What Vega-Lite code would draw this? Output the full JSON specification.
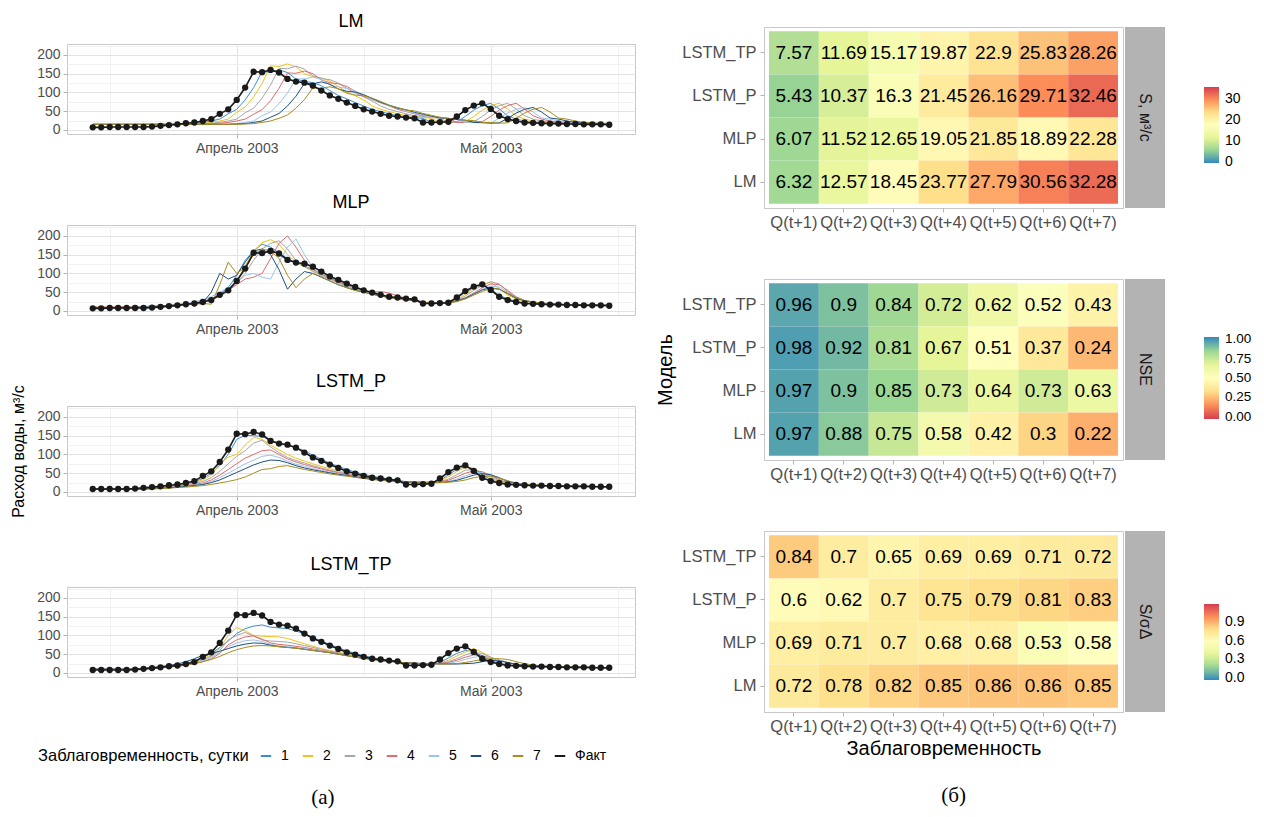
{
"$schema":"https://vega.github.io/schema/vega-lite/v6.json",
"background":"white",
"padding":{"left":10,"top":12,"right":4,"bottom":2},
"config":{"font":"Liberation Sans","view":{"stroke":"#c8c8c8"},"title":{"font":"Liberation Sans","fontSize":18,"fontWeight":"normal","color":"#000","offset":13,"anchor":"middle"},"legend":{"layout":{"bottom":{"anchor":"middle"},"right":{"anchor":"middle"}}}},
"datasets":{
"LM":[
{"d":"2003-03-15","f":7,"1":15,"2":15,"3":15,"4":15,"5":15,"6":15,"7":15},
{"d":"2003-03-16","f":7,"1":15,"2":15,"3":15,"4":15,"5":15,"6":15,"7":15},
{"d":"2003-03-17","f":8,"1":15,"2":15,"3":15,"4":15,"5":15,"6":15,"7":15},
{"d":"2003-03-18","f":8,"1":15,"2":15,"3":15,"4":15,"5":15,"6":15,"7":15},
{"d":"2003-03-19","f":8,"1":15,"2":15,"3":15,"4":15,"5":15,"6":15,"7":15},
{"d":"2003-03-20","f":8,"1":15,"2":15,"3":15,"4":15,"5":15,"6":15,"7":15},
{"d":"2003-03-21","f":8,"1":15,"2":15,"3":15,"4":15,"5":15,"6":15,"7":15},
{"d":"2003-03-22","f":9,"1":15,"2":15,"3":15,"4":15,"5":15,"6":15,"7":15},
{"d":"2003-03-23","f":11,"1":15,"2":15,"3":15,"4":15,"5":15,"6":15,"7":15},
{"d":"2003-03-24","f":13,"1":15,"2":15,"3":15,"4":15,"5":15,"6":15,"7":15},
{"d":"2003-03-25","f":15,"1":15,"2":15,"3":15,"4":15,"5":15,"6":15,"7":15},
{"d":"2003-03-26","f":18,"1":16,"2":15,"3":15,"4":15,"5":15,"6":15,"7":15},
{"d":"2003-03-27","f":20,"1":18,"2":16,"3":15,"4":15,"5":15,"6":15,"7":15},
{"d":"2003-03-28","f":24,"1":20,"2":18,"3":16,"4":15,"5":15,"6":15,"7":15},
{"d":"2003-03-29","f":29,"1":24,"2":20,"3":18,"4":16,"5":15,"6":15,"7":15},
{"d":"2003-03-30","f":43,"1":29,"2":24,"3":20,"4":18,"5":15,"6":15,"7":15},
{"d":"2003-03-31","f":55,"1":43,"2":29,"3":24,"4":20,"5":16,"6":15,"7":15},
{"d":"2003-04-01","f":80,"1":55,"2":47,"3":29,"4":24,"5":17,"6":16,"7":15},
{"d":"2003-04-02","f":113,"1":80,"2":61,"3":46,"4":29,"5":20,"6":17,"7":16},
{"d":"2003-04-03","f":155,"1":113,"2":88,"3":58,"4":42,"5":24,"6":20,"7":17},
{"d":"2003-04-04","f":154,"1":155,"2":124,"3":85,"4":54,"5":38,"6":24,"7":20},
{"d":"2003-04-05","f":160,"1":154,"2":171,"3":120,"4":78,"5":48,"6":34,"7":24},
{"d":"2003-04-06","f":153,"1":160,"2":169,"3":164,"4":111,"5":70,"6":44,"7":31},
{"d":"2003-04-07","f":136,"1":153,"2":176,"3":163,"4":152,"5":99,"6":64,"7":40},
{"d":"2003-04-08","f":129,"1":136,"2":168,"3":170,"4":151,"5":136,"6":90,"7":58},
{"d":"2003-04-09","f":126,"1":129,"2":150,"3":162,"4":157,"5":136,"6":124,"7":81},
{"d":"2003-04-10","f":118,"1":126,"2":142,"3":144,"4":150,"5":141,"6":123,"7":112},
{"d":"2003-04-11","f":105,"1":118,"2":139,"3":137,"4":133,"5":135,"6":128,"7":111},
{"d":"2003-04-12","f":92,"1":105,"2":130,"3":134,"4":126,"5":120,"6":122,"7":115},
{"d":"2003-04-13","f":83,"1":92,"2":116,"3":125,"4":123,"5":114,"6":109,"7":110},
{"d":"2003-04-14","f":73,"1":83,"2":101,"3":111,"4":116,"5":111,"6":103,"7":98},
{"d":"2003-04-15","f":64,"1":73,"2":91,"3":98,"4":103,"5":104,"6":101,"7":93},
{"d":"2003-04-16","f":55,"1":64,"2":80,"3":88,"4":90,"5":92,"6":94,"7":91},
{"d":"2003-04-17","f":49,"1":55,"2":64,"3":77,"4":81,"5":81,"6":84,"7":85},
{"d":"2003-04-18","f":43,"1":49,"2":55,"3":64,"4":72,"5":73,"6":74,"7":76},
{"d":"2003-04-19","f":38,"1":43,"2":49,"3":55,"4":64,"5":64,"6":66,"7":66},
{"d":"2003-04-20","f":36,"1":38,"2":43,"3":49,"4":55,"5":58,"6":58,"7":60},
{"d":"2003-04-21","f":33,"1":36,"2":38,"3":43,"4":49,"5":50,"6":54,"7":53},
{"d":"2003-04-22","f":31,"1":33,"2":36,"3":38,"4":43,"5":44,"6":47,"7":51},
{"d":"2003-04-23","f":20,"1":31,"2":33,"3":36,"4":38,"5":39,"6":42,"7":44},
{"d":"2003-04-24","f":20,"1":20,"2":31,"3":33,"4":36,"5":34,"6":37,"7":39},
{"d":"2003-04-25","f":21,"1":20,"2":20,"3":31,"4":33,"5":33,"6":32,"7":34},
{"d":"2003-04-26","f":22,"1":21,"2":20,"3":20,"4":31,"5":31,"6":31,"7":30},
{"d":"2003-04-27","f":36,"1":22,"2":21,"3":20,"4":20,"5":29,"6":28,"7":29},
{"d":"2003-04-28","f":53,"1":36,"2":22,"3":21,"4":20,"5":20,"6":26,"7":26},
{"d":"2003-04-29","f":65,"1":53,"2":36,"3":22,"4":21,"5":20,"6":20,"7":25},
{"d":"2003-04-30","f":71,"1":65,"2":53,"3":36,"4":22,"5":18,"6":20,"7":20},
{"d":"2003-05-01","f":56,"1":71,"2":65,"3":53,"4":36,"5":19,"6":18,"7":20},
{"d":"2003-05-02","f":38,"1":56,"2":71,"3":65,"4":53,"5":31,"6":19,"7":18},
{"d":"2003-05-03","f":29,"1":38,"2":56,"3":71,"4":65,"5":45,"6":31,"7":19},
{"d":"2003-05-04","f":24,"1":29,"2":38,"3":56,"4":71,"5":55,"6":45,"7":31},
{"d":"2003-05-05","f":20,"1":24,"2":29,"3":38,"4":56,"5":60,"6":55,"7":45},
{"d":"2003-05-06","f":19,"1":20,"2":24,"3":29,"4":38,"5":48,"6":60,"7":55},
{"d":"2003-05-07","f":18,"1":19,"2":20,"3":24,"4":29,"5":32,"6":48,"7":60},
{"d":"2003-05-08","f":17,"1":18,"2":19,"3":20,"4":24,"5":29,"6":32,"7":48},
{"d":"2003-05-09","f":17,"1":17,"2":18,"3":19,"4":20,"5":24,"6":29,"7":32},
{"d":"2003-05-10","f":16,"1":17,"2":17,"3":18,"4":19,"5":20,"6":24,"7":29},
{"d":"2003-05-11","f":16,"1":16,"2":17,"3":17,"4":18,"5":19,"6":20,"7":24},
{"d":"2003-05-12","f":15,"1":16,"2":16,"3":17,"4":17,"5":18,"6":19,"7":20},
{"d":"2003-05-13","f":15,"1":15,"2":16,"3":16,"4":17,"5":17,"6":18,"7":19},
{"d":"2003-05-14","f":15,"1":15,"2":15,"3":16,"4":16,"5":17,"6":17,"7":18},
{"d":"2003-05-15","f":14,"1":15,"2":15,"3":15,"4":16,"5":16,"6":17,"7":17}
],
"MLP":[
{"d":"2003-03-15","f":7,"1":9,"2":10,"3":10,"4":10,"5":9,"6":9,"7":8},
{"d":"2003-03-16","f":7,"1":9,"2":10,"3":10,"4":10,"5":9,"6":9,"7":8},
{"d":"2003-03-17","f":8,"1":9,"2":10,"3":10,"4":10,"5":9,"6":9,"7":8},
{"d":"2003-03-18","f":8,"1":9,"2":10,"3":10,"4":11,"5":9,"6":9,"7":8},
{"d":"2003-03-19","f":8,"1":9,"2":10,"3":10,"4":11,"5":10,"6":9,"7":8},
{"d":"2003-03-20","f":8,"1":9,"2":10,"3":10,"4":11,"5":10,"6":10,"7":9},
{"d":"2003-03-21","f":8,"1":10,"2":10,"3":10,"4":12,"5":11,"6":10,"7":9},
{"d":"2003-03-22","f":9,"1":11,"2":11,"3":11,"4":13,"5":12,"6":11,"7":10},
{"d":"2003-03-23","f":11,"1":12,"2":12,"3":12,"4":14,"5":13,"6":12,"7":11},
{"d":"2003-03-24","f":13,"1":14,"2":14,"3":13,"4":15,"5":15,"6":14,"7":12},
{"d":"2003-03-25","f":15,"1":16,"2":16,"3":15,"4":17,"5":17,"6":16,"7":14},
{"d":"2003-03-26","f":18,"1":18,"2":18,"3":17,"4":19,"5":20,"6":18,"7":16},
{"d":"2003-03-27","f":20,"1":21,"2":21,"3":20,"4":22,"5":24,"6":20,"7":18},
{"d":"2003-03-28","f":24,"1":26,"2":25,"3":24,"4":26,"5":30,"6":22,"7":20},
{"d":"2003-03-29","f":29,"1":32,"2":30,"3":30,"4":32,"5":38,"6":50,"7":18},
{"d":"2003-03-30","f":43,"1":45,"2":40,"3":38,"4":40,"5":50,"6":100,"7":70},
{"d":"2003-03-31","f":55,"1":62,"2":55,"3":52,"4":55,"5":62,"6":85,"7":130},
{"d":"2003-04-01","f":80,"1":95,"2":80,"3":75,"4":70,"5":75,"6":95,"7":100},
{"d":"2003-04-02","f":113,"1":135,"2":120,"3":100,"4":85,"5":95,"6":130,"7":115},
{"d":"2003-04-03","f":155,"1":160,"2":160,"3":135,"4":90,"5":100,"6":160,"7":150},
{"d":"2003-04-04","f":154,"1":178,"2":182,"3":165,"4":100,"5":90,"6":165,"7":165},
{"d":"2003-04-05","f":160,"1":170,"2":190,"3":180,"4":140,"5":85,"6":150,"7":160},
{"d":"2003-04-06","f":153,"1":155,"2":178,"3":187,"4":180,"5":130,"6":110,"7":140},
{"d":"2003-04-07","f":136,"1":140,"2":150,"3":165,"4":200,"5":170,"6":58,"7":95},
{"d":"2003-04-08","f":129,"1":128,"2":130,"3":135,"4":170,"5":192,"6":85,"7":62},
{"d":"2003-04-09","f":126,"1":120,"2":118,"3":118,"4":135,"5":150,"6":105,"7":85},
{"d":"2003-04-10","f":118,"1":110,"2":108,"3":105,"4":112,"5":115,"6":100,"7":100},
{"d":"2003-04-11","f":105,"1":98,"2":97,"3":95,"4":98,"5":96,"6":90,"7":92},
{"d":"2003-04-12","f":92,"1":88,"2":86,"3":85,"4":87,"5":84,"6":80,"7":80},
{"d":"2003-04-13","f":83,"1":78,"2":76,"3":75,"4":78,"5":74,"6":70,"7":70},
{"d":"2003-04-14","f":73,"1":68,"2":66,"3":65,"4":70,"5":65,"6":62,"7":62},
{"d":"2003-04-15","f":64,"1":60,"2":58,"3":58,"4":62,"5":58,"6":55,"7":55},
{"d":"2003-04-16","f":55,"1":52,"2":51,"3":51,"4":55,"5":52,"6":50,"7":50},
{"d":"2003-04-17","f":49,"1":46,"2":45,"3":45,"4":50,"5":46,"6":45,"7":45},
{"d":"2003-04-18","f":43,"1":41,"2":40,"3":40,"4":52,"5":41,"6":40,"7":40},
{"d":"2003-04-19","f":38,"1":37,"2":36,"3":36,"4":48,"5":37,"6":36,"7":36},
{"d":"2003-04-20","f":36,"1":34,"2":33,"3":33,"4":40,"5":34,"6":33,"7":33},
{"d":"2003-04-21","f":33,"1":32,"2":31,"3":31,"4":34,"5":32,"6":31,"7":31},
{"d":"2003-04-22","f":31,"1":28,"2":27,"3":28,"4":30,"5":28,"6":27,"7":28},
{"d":"2003-04-23","f":20,"1":22,"2":22,"3":23,"4":24,"5":23,"6":22,"7":23},
{"d":"2003-04-24","f":20,"1":21,"2":21,"3":21,"4":22,"5":21,"6":21,"7":21},
{"d":"2003-04-25","f":21,"1":22,"2":22,"3":22,"4":22,"5":21,"6":21,"7":21},
{"d":"2003-04-26","f":22,"1":24,"2":24,"3":23,"4":23,"5":22,"6":22,"7":22},
{"d":"2003-04-27","f":36,"1":34,"2":30,"3":28,"4":27,"5":26,"6":26,"7":25},
{"d":"2003-04-28","f":53,"1":50,"2":45,"3":40,"4":35,"5":34,"6":34,"7":32},
{"d":"2003-04-29","f":65,"1":62,"2":60,"3":55,"4":48,"5":46,"6":45,"7":42},
{"d":"2003-04-30","f":71,"1":68,"2":72,"3":68,"4":62,"5":58,"6":56,"7":52},
{"d":"2003-05-01","f":56,"1":58,"2":76,"3":78,"4":72,"5":66,"6":62,"7":60},
{"d":"2003-05-02","f":38,"1":42,"2":60,"3":72,"4":70,"5":64,"6":58,"7":58},
{"d":"2003-05-03","f":29,"1":32,"2":42,"3":52,"4":55,"5":50,"6":46,"7":48},
{"d":"2003-05-04","f":24,"1":26,"2":32,"3":35,"4":38,"5":36,"6":34,"7":36},
{"d":"2003-05-05","f":20,"1":22,"2":26,"3":27,"4":28,"5":28,"6":27,"7":28},
{"d":"2003-05-06","f":19,"1":20,"2":22,"3":23,"4":24,"5":24,"6":23,"7":24},
{"d":"2003-05-07","f":18,"1":19,"2":20,"3":20,"4":21,"5":21,"6":20,"7":21},
{"d":"2003-05-08","f":17,"1":18,"2":19,"3":19,"4":20,"5":19,"6":19,"7":19},
{"d":"2003-05-09","f":17,"1":17,"2":18,"3":18,"4":18,"5":18,"6":18,"7":18},
{"d":"2003-05-10","f":16,"1":17,"2":17,"3":17,"4":17,"5":17,"6":17,"7":17},
{"d":"2003-05-11","f":16,"1":16,"2":17,"3":17,"4":17,"5":17,"6":17,"7":17},
{"d":"2003-05-12","f":15,"1":16,"2":16,"3":16,"4":16,"5":16,"6":16,"7":16},
{"d":"2003-05-13","f":15,"1":15,"2":16,"3":16,"4":16,"5":16,"6":16,"7":16},
{"d":"2003-05-14","f":15,"1":15,"2":15,"3":15,"4":15,"5":15,"6":15,"7":15},
{"d":"2003-05-15","f":14,"1":15,"2":15,"3":15,"4":15,"5":15,"6":15,"7":15}
],
"LSTM_P":[
{"d":"2003-03-15","f":8,"1":8,"2":8,"3":8,"4":8,"5":8,"6":8,"7":8},
{"d":"2003-03-16","f":8,"1":8,"2":8,"3":8,"4":8,"5":8,"6":8,"7":8},
{"d":"2003-03-17","f":8,"1":8,"2":8,"3":8,"4":8,"5":8,"6":8,"7":8},
{"d":"2003-03-18","f":8,"1":8,"2":8,"3":8,"4":8,"5":8,"6":8,"7":8},
{"d":"2003-03-19","f":8,"1":8,"2":8,"3":8,"4":8,"5":8,"6":8,"7":8},
{"d":"2003-03-20","f":9,"1":9,"2":8,"3":8,"4":8,"5":8,"6":8,"7":8},
{"d":"2003-03-21","f":11,"1":10,"2":9,"3":9,"4":9,"5":8,"6":8,"7":8},
{"d":"2003-03-22","f":13,"1":12,"2":11,"3":10,"4":10,"5":9,"6":9,"7":8},
{"d":"2003-03-23","f":15,"1":14,"2":13,"3":12,"4":11,"5":10,"6":10,"7":9},
{"d":"2003-03-24","f":18,"1":16,"2":15,"3":14,"4":13,"5":12,"6":11,"7":10},
{"d":"2003-03-25","f":20,"1":19,"2":18,"3":16,"4":15,"5":14,"6":13,"7":12},
{"d":"2003-03-26","f":24,"1":22,"2":21,"3":19,"4":17,"5":16,"6":15,"7":13},
{"d":"2003-03-27","f":29,"1":27,"2":25,"3":23,"4":20,"5":18,"6":17,"7":15},
{"d":"2003-03-28","f":43,"1":36,"2":32,"3":28,"4":24,"5":22,"6":20,"7":17},
{"d":"2003-03-29","f":55,"1":50,"2":45,"3":38,"4":32,"5":28,"6":25,"7":20},
{"d":"2003-03-30","f":80,"1":70,"2":75,"3":55,"4":45,"5":38,"6":32,"7":24},
{"d":"2003-03-31","f":113,"1":100,"2":93,"3":75,"4":60,"5":50,"6":42,"7":28},
{"d":"2003-04-01","f":155,"1":140,"2":100,"3":95,"4":75,"5":62,"6":52,"7":33},
{"d":"2003-04-02","f":154,"1":151,"2":125,"3":110,"4":90,"5":75,"6":62,"7":40},
{"d":"2003-04-03","f":160,"1":150,"2":146,"3":130,"4":100,"5":85,"6":72,"7":50},
{"d":"2003-04-04","f":153,"1":148,"2":140,"3":138,"4":110,"5":95,"6":80,"7":60},
{"d":"2003-04-05","f":136,"1":138,"2":125,"3":120,"4":112,"5":98,"6":85,"7":62},
{"d":"2003-04-06","f":129,"1":130,"2":112,"3":105,"4":100,"5":92,"6":84,"7":68},
{"d":"2003-04-07","f":126,"1":125,"2":100,"3":92,"4":88,"5":82,"6":78,"7":70},
{"d":"2003-04-08","f":118,"1":118,"2":90,"3":84,"4":80,"5":74,"6":70,"7":65},
{"d":"2003-04-09","f":105,"1":110,"2":82,"3":77,"4":73,"5":68,"6":64,"7":60},
{"d":"2003-04-10","f":92,"1":98,"2":75,"3":70,"4":67,"5":62,"6":59,"7":56},
{"d":"2003-04-11","f":83,"1":87,"2":68,"3":64,"4":61,"5":57,"6":55,"7":52},
{"d":"2003-04-12","f":73,"1":77,"2":62,"3":58,"4":56,"5":53,"6":51,"7":48},
{"d":"2003-04-13","f":64,"1":68,"2":56,"3":53,"4":51,"5":49,"6":47,"7":45},
{"d":"2003-04-14","f":55,"1":60,"2":51,"3":48,"4":47,"5":45,"6":44,"7":42},
{"d":"2003-04-15","f":49,"1":53,"2":46,"3":44,"4":43,"5":41,"6":40,"7":39},
{"d":"2003-04-16","f":43,"1":47,"2":42,"3":40,"4":39,"5":38,"6":37,"7":36},
{"d":"2003-04-17","f":38,"1":42,"2":38,"3":36,"4":36,"5":35,"6":34,"7":33},
{"d":"2003-04-18","f":36,"1":38,"2":35,"3":33,"4":33,"5":33,"6":32,"7":31},
{"d":"2003-04-19","f":33,"1":35,"2":32,"3":31,"4":31,"5":31,"6":30,"7":29},
{"d":"2003-04-20","f":31,"1":32,"2":30,"3":29,"4":29,"5":29,"6":28,"7":28},
{"d":"2003-04-21","f":20,"1":27,"2":27,"3":27,"4":27,"5":27,"6":27,"7":27},
{"d":"2003-04-22","f":20,"1":24,"2":26,"3":26,"4":26,"5":26,"6":26,"7":26},
{"d":"2003-04-23","f":21,"1":23,"2":26,"3":26,"4":26,"5":25,"6":25,"7":25},
{"d":"2003-04-24","f":22,"1":23,"2":26,"3":26,"4":26,"5":25,"6":25,"7":25},
{"d":"2003-04-25","f":36,"1":30,"2":30,"3":28,"4":27,"5":26,"6":25,"7":25},
{"d":"2003-04-26","f":53,"1":46,"2":40,"3":34,"4":31,"5":28,"6":27,"7":26},
{"d":"2003-04-27","f":65,"1":60,"2":55,"3":46,"4":40,"5":34,"6":31,"7":28},
{"d":"2003-04-28","f":71,"1":68,"2":65,"3":58,"4":50,"5":43,"6":38,"7":32},
{"d":"2003-04-29","f":56,"1":62,"2":62,"3":60,"4":56,"5":50,"6":45,"7":38},
{"d":"2003-04-30","f":38,"1":46,"2":50,"3":52,"4":54,"5":52,"6":49,"7":42},
{"d":"2003-05-01","f":29,"1":33,"2":36,"3":40,"4":44,"5":46,"6":46,"7":42},
{"d":"2003-05-02","f":24,"1":26,"2":28,"3":30,"4":33,"5":36,"6":38,"7":37},
{"d":"2003-05-03","f":20,"1":22,"2":23,"3":24,"4":25,"5":27,"6":29,"7":30},
{"d":"2003-05-04","f":19,"1":20,"2":20,"3":21,"4":21,"5":22,"6":23,"7":24},
{"d":"2003-05-05","f":18,"1":19,"2":19,"3":19,"4":19,"5":20,"6":20,"7":21},
{"d":"2003-05-06","f":17,"1":18,"2":18,"3":18,"4":18,"5":18,"6":18,"7":19},
{"d":"2003-05-07","f":17,"1":17,"2":17,"3":17,"4":17,"5":17,"6":17,"7":18},
{"d":"2003-05-08","f":16,"1":17,"2":17,"3":17,"4":17,"5":17,"6":17,"7":17},
{"d":"2003-05-09","f":16,"1":16,"2":16,"3":16,"4":16,"5":16,"6":16,"7":16},
{"d":"2003-05-10","f":15,"1":16,"2":16,"3":16,"4":16,"5":16,"6":16,"7":16},
{"d":"2003-05-11","f":15,"1":15,"2":15,"3":15,"4":15,"5":15,"6":15,"7":15},
{"d":"2003-05-12","f":15,"1":15,"2":15,"3":15,"4":15,"5":15,"6":15,"7":15},
{"d":"2003-05-13","f":14,"1":15,"2":15,"3":15,"4":15,"5":15,"6":15,"7":15},
{"d":"2003-05-14","f":14,"1":14,"2":14,"3":14,"4":14,"5":14,"6":14,"7":14},
{"d":"2003-05-15","f":14,"1":14,"2":14,"3":14,"4":14,"5":14,"6":14,"7":14}
],
"LSTM_TP":[
{"d":"2003-03-15","f":8,"1":10,"2":10,"3":10,"4":10,"5":10,"6":10,"7":9},
{"d":"2003-03-16","f":8,"1":10,"2":10,"3":10,"4":10,"5":10,"6":10,"7":9},
{"d":"2003-03-17","f":8,"1":10,"2":10,"3":10,"4":10,"5":10,"6":10,"7":9},
{"d":"2003-03-18","f":8,"1":10,"2":10,"3":10,"4":10,"5":10,"6":10,"7":9},
{"d":"2003-03-19","f":8,"1":10,"2":10,"3":10,"4":10,"5":10,"6":10,"7":9},
{"d":"2003-03-20","f":9,"1":11,"2":11,"3":10,"4":10,"5":10,"6":11,"7":10},
{"d":"2003-03-21","f":11,"1":12,"2":12,"3":11,"4":11,"5":11,"6":12,"7":11},
{"d":"2003-03-22","f":13,"1":14,"2":13,"3":13,"4":12,"5":12,"6":14,"7":12},
{"d":"2003-03-23","f":15,"1":16,"2":15,"3":15,"4":14,"5":14,"6":17,"7":14},
{"d":"2003-03-24","f":18,"1":18,"2":17,"3":17,"4":16,"5":16,"6":20,"7":16},
{"d":"2003-03-25","f":20,"1":21,"2":20,"3":19,"4":18,"5":18,"6":24,"7":18},
{"d":"2003-03-26","f":24,"1":26,"2":24,"3":23,"4":21,"5":21,"6":30,"7":21},
{"d":"2003-03-27","f":29,"1":32,"2":30,"3":28,"4":25,"5":26,"6":38,"7":25},
{"d":"2003-03-28","f":43,"1":42,"2":38,"3":35,"4":30,"5":33,"6":47,"7":30},
{"d":"2003-03-29","f":55,"1":52,"2":48,"3":45,"4":38,"5":42,"6":52,"7":36},
{"d":"2003-03-30","f":80,"1":68,"2":65,"3":60,"4":52,"5":55,"6":58,"7":44},
{"d":"2003-03-31","f":113,"1":85,"2":100,"3":88,"4":75,"5":70,"6":65,"7":54},
{"d":"2003-04-01","f":155,"1":105,"2":121,"3":100,"4":88,"5":80,"6":72,"7":62},
{"d":"2003-04-02","f":154,"1":118,"2":112,"3":108,"4":96,"5":86,"6":77,"7":68},
{"d":"2003-04-03","f":160,"1":125,"2":100,"3":98,"4":99,"5":88,"6":80,"7":72},
{"d":"2003-04-04","f":153,"1":128,"2":98,"3":88,"4":90,"5":84,"6":79,"7":73},
{"d":"2003-04-05","f":136,"1":122,"2":97,"3":85,"4":80,"5":76,"6":74,"7":72},
{"d":"2003-04-06","f":129,"1":120,"2":96,"3":84,"4":76,"5":72,"6":70,"7":70},
{"d":"2003-04-07","f":126,"1":118,"2":92,"3":82,"4":74,"5":70,"6":68,"7":68},
{"d":"2003-04-08","f":118,"1":112,"2":85,"3":78,"4":71,"5":68,"6":66,"7":66},
{"d":"2003-04-09","f":105,"1":104,"2":78,"3":73,"4":68,"5":65,"6":63,"7":63},
{"d":"2003-04-10","f":92,"1":95,"2":71,"3":68,"4":64,"5":62,"6":60,"7":60},
{"d":"2003-04-11","f":83,"1":85,"2":65,"3":63,"4":60,"5":58,"6":57,"7":57},
{"d":"2003-04-12","f":73,"1":76,"2":60,"3":58,"4":56,"5":55,"6":54,"7":54},
{"d":"2003-04-13","f":64,"1":67,"2":55,"3":54,"4":52,"5":51,"6":50,"7":50},
{"d":"2003-04-14","f":55,"1":59,"2":50,"3":49,"4":48,"5":47,"6":46,"7":46},
{"d":"2003-04-15","f":49,"1":52,"2":46,"3":45,"4":44,"5":43,"6":42,"7":42},
{"d":"2003-04-16","f":43,"1":46,"2":42,"3":41,"4":41,"5":40,"6":39,"7":39},
{"d":"2003-04-17","f":38,"1":41,"2":38,"3":38,"4":37,"5":37,"6":36,"7":36},
{"d":"2003-04-18","f":36,"1":37,"2":35,"3":35,"4":34,"5":34,"6":33,"7":33},
{"d":"2003-04-19","f":33,"1":33,"2":32,"3":32,"4":31,"5":31,"6":31,"7":31},
{"d":"2003-04-20","f":31,"1":30,"2":30,"3":30,"4":29,"5":29,"6":29,"7":29},
{"d":"2003-04-21","f":20,"1":25,"2":26,"3":27,"4":27,"5":27,"6":27,"7":27},
{"d":"2003-04-22","f":20,"1":23,"2":25,"3":26,"4":26,"5":26,"6":26,"7":26},
{"d":"2003-04-23","f":21,"1":22,"2":24,"3":25,"4":25,"5":25,"6":25,"7":25},
{"d":"2003-04-24","f":22,"1":22,"2":24,"3":25,"4":25,"5":25,"6":25,"7":25},
{"d":"2003-04-25","f":36,"1":28,"2":26,"3":26,"4":25,"5":25,"6":24,"7":24},
{"d":"2003-04-26","f":53,"1":40,"2":34,"3":30,"4":28,"5":26,"6":24,"7":24},
{"d":"2003-04-27","f":65,"1":52,"2":45,"3":38,"4":34,"5":30,"6":24,"7":25},
{"d":"2003-04-28","f":71,"1":60,"2":56,"3":48,"4":42,"5":36,"6":25,"7":28},
{"d":"2003-04-29","f":56,"1":58,"2":65,"3":55,"4":48,"5":42,"6":26,"7":32},
{"d":"2003-04-30","f":38,"1":45,"2":55,"3":52,"4":46,"5":44,"6":30,"7":36},
{"d":"2003-05-01","f":29,"1":33,"2":42,"3":42,"4":40,"5":40,"6":34,"7":38},
{"d":"2003-05-02","f":24,"1":26,"2":33,"3":34,"4":34,"5":34,"6":32,"7":38},
{"d":"2003-05-03","f":20,"1":22,"2":27,"3":28,"4":28,"5":28,"6":28,"7":36},
{"d":"2003-05-04","f":19,"1":20,"2":23,"3":23,"4":23,"5":23,"6":23,"7":30},
{"d":"2003-05-05","f":18,"1":19,"2":20,"3":20,"4":20,"5":20,"6":20,"7":25},
{"d":"2003-05-06","f":17,"1":18,"2":19,"3":19,"4":19,"5":19,"6":19,"7":21},
{"d":"2003-05-07","f":17,"1":17,"2":18,"3":18,"4":18,"5":18,"6":18,"7":19},
{"d":"2003-05-08","f":16,"1":17,"2":17,"3":17,"4":17,"5":17,"6":17,"7":18},
{"d":"2003-05-09","f":16,"1":16,"2":16,"3":16,"4":16,"5":16,"6":16,"7":17},
{"d":"2003-05-10","f":15,"1":16,"2":16,"3":16,"4":16,"5":16,"6":16,"7":16},
{"d":"2003-05-11","f":15,"1":15,"2":15,"3":15,"4":15,"5":15,"6":15,"7":16},
{"d":"2003-05-12","f":15,"1":15,"2":15,"3":15,"4":15,"5":15,"6":15,"7":15},
{"d":"2003-05-13","f":14,"1":15,"2":15,"3":15,"4":15,"5":15,"6":15,"7":15},
{"d":"2003-05-14","f":14,"1":14,"2":14,"3":14,"4":14,"5":14,"6":14,"7":15},
{"d":"2003-05-15","f":14,"1":14,"2":14,"3":14,"4":14,"5":14,"6":14,"7":14}
],
"hm":[
{"k":"S","m":"LSTM_TP","q":"Q(t+1)","v":7.57},{"k":"S","m":"LSTM_TP","q":"Q(t+2)","v":11.69},{"k":"S","m":"LSTM_TP","q":"Q(t+3)","v":15.17},{"k":"S","m":"LSTM_TP","q":"Q(t+4)","v":19.87},{"k":"S","m":"LSTM_TP","q":"Q(t+5)","v":22.9},{"k":"S","m":"LSTM_TP","q":"Q(t+6)","v":25.83},{"k":"S","m":"LSTM_TP","q":"Q(t+7)","v":28.26},
{"k":"S","m":"LSTM_P","q":"Q(t+1)","v":5.43},{"k":"S","m":"LSTM_P","q":"Q(t+2)","v":10.37},{"k":"S","m":"LSTM_P","q":"Q(t+3)","v":16.3},{"k":"S","m":"LSTM_P","q":"Q(t+4)","v":21.45},{"k":"S","m":"LSTM_P","q":"Q(t+5)","v":26.16},{"k":"S","m":"LSTM_P","q":"Q(t+6)","v":29.71},{"k":"S","m":"LSTM_P","q":"Q(t+7)","v":32.46},
{"k":"S","m":"MLP","q":"Q(t+1)","v":6.07},{"k":"S","m":"MLP","q":"Q(t+2)","v":11.52},{"k":"S","m":"MLP","q":"Q(t+3)","v":12.65},{"k":"S","m":"MLP","q":"Q(t+4)","v":19.05},{"k":"S","m":"MLP","q":"Q(t+5)","v":21.85},{"k":"S","m":"MLP","q":"Q(t+6)","v":18.89},{"k":"S","m":"MLP","q":"Q(t+7)","v":22.28},
{"k":"S","m":"LM","q":"Q(t+1)","v":6.32},{"k":"S","m":"LM","q":"Q(t+2)","v":12.57},{"k":"S","m":"LM","q":"Q(t+3)","v":18.45},{"k":"S","m":"LM","q":"Q(t+4)","v":23.77},{"k":"S","m":"LM","q":"Q(t+5)","v":27.79},{"k":"S","m":"LM","q":"Q(t+6)","v":30.56},{"k":"S","m":"LM","q":"Q(t+7)","v":32.28},
{"k":"N","m":"LSTM_TP","q":"Q(t+1)","v":0.96},{"k":"N","m":"LSTM_TP","q":"Q(t+2)","v":0.9},{"k":"N","m":"LSTM_TP","q":"Q(t+3)","v":0.84},{"k":"N","m":"LSTM_TP","q":"Q(t+4)","v":0.72},{"k":"N","m":"LSTM_TP","q":"Q(t+5)","v":0.62},{"k":"N","m":"LSTM_TP","q":"Q(t+6)","v":0.52},{"k":"N","m":"LSTM_TP","q":"Q(t+7)","v":0.43},
{"k":"N","m":"LSTM_P","q":"Q(t+1)","v":0.98},{"k":"N","m":"LSTM_P","q":"Q(t+2)","v":0.92},{"k":"N","m":"LSTM_P","q":"Q(t+3)","v":0.81},{"k":"N","m":"LSTM_P","q":"Q(t+4)","v":0.67},{"k":"N","m":"LSTM_P","q":"Q(t+5)","v":0.51},{"k":"N","m":"LSTM_P","q":"Q(t+6)","v":0.37},{"k":"N","m":"LSTM_P","q":"Q(t+7)","v":0.24},
{"k":"N","m":"MLP","q":"Q(t+1)","v":0.97},{"k":"N","m":"MLP","q":"Q(t+2)","v":0.9},{"k":"N","m":"MLP","q":"Q(t+3)","v":0.85},{"k":"N","m":"MLP","q":"Q(t+4)","v":0.73},{"k":"N","m":"MLP","q":"Q(t+5)","v":0.64},{"k":"N","m":"MLP","q":"Q(t+6)","v":0.73},{"k":"N","m":"MLP","q":"Q(t+7)","v":0.63},
{"k":"N","m":"LM","q":"Q(t+1)","v":0.97},{"k":"N","m":"LM","q":"Q(t+2)","v":0.88},{"k":"N","m":"LM","q":"Q(t+3)","v":0.75},{"k":"N","m":"LM","q":"Q(t+4)","v":0.58},{"k":"N","m":"LM","q":"Q(t+5)","v":0.42},{"k":"N","m":"LM","q":"Q(t+6)","v":0.3},{"k":"N","m":"LM","q":"Q(t+7)","v":0.22},
{"k":"R","m":"LSTM_TP","q":"Q(t+1)","v":0.84},{"k":"R","m":"LSTM_TP","q":"Q(t+2)","v":0.7},{"k":"R","m":"LSTM_TP","q":"Q(t+3)","v":0.65},{"k":"R","m":"LSTM_TP","q":"Q(t+4)","v":0.69},{"k":"R","m":"LSTM_TP","q":"Q(t+5)","v":0.69},{"k":"R","m":"LSTM_TP","q":"Q(t+6)","v":0.71},{"k":"R","m":"LSTM_TP","q":"Q(t+7)","v":0.72},
{"k":"R","m":"LSTM_P","q":"Q(t+1)","v":0.6},{"k":"R","m":"LSTM_P","q":"Q(t+2)","v":0.62},{"k":"R","m":"LSTM_P","q":"Q(t+3)","v":0.7},{"k":"R","m":"LSTM_P","q":"Q(t+4)","v":0.75},{"k":"R","m":"LSTM_P","q":"Q(t+5)","v":0.79},{"k":"R","m":"LSTM_P","q":"Q(t+6)","v":0.81},{"k":"R","m":"LSTM_P","q":"Q(t+7)","v":0.83},
{"k":"R","m":"MLP","q":"Q(t+1)","v":0.69},{"k":"R","m":"MLP","q":"Q(t+2)","v":0.71},{"k":"R","m":"MLP","q":"Q(t+3)","v":0.7},{"k":"R","m":"MLP","q":"Q(t+4)","v":0.68},{"k":"R","m":"MLP","q":"Q(t+5)","v":0.68},{"k":"R","m":"MLP","q":"Q(t+6)","v":0.53},{"k":"R","m":"MLP","q":"Q(t+7)","v":0.58},
{"k":"R","m":"LM","q":"Q(t+1)","v":0.72},{"k":"R","m":"LM","q":"Q(t+2)","v":0.78},{"k":"R","m":"LM","q":"Q(t+3)","v":0.82},{"k":"R","m":"LM","q":"Q(t+4)","v":0.85},{"k":"R","m":"LM","q":"Q(t+5)","v":0.86},{"k":"R","m":"LM","q":"Q(t+6)","v":0.86},{"k":"R","m":"LM","q":"Q(t+7)","v":0.85}
]
},
"concat":[
{
"title":{"text":"(а)","orient":"bottom","font":"Liberation Serif","fontSize":21,"offset":22},
"spacing":-21,
"vconcat":[
{"width":568,"height":1,"view":{"stroke":null},"data":{"values":[{"t":""}]},"mark":{"type":"text"},"encoding":{"text":{"field":"t","type":"nominal"}}},
{"spacing":91,"bounds":"flush","vconcat":[
{"title":{"text":"LM","frame":"group"},"width":568,"height":90,"data":{"name":"LM"},
"transform":[{"fold":["1","2","3","4","5","6","7","f"],"as":["s","v"]}],
"encoding":{
"x":{"field":"d","type":"temporal","scale":{"type":"utc","domain":[{"year":2003,"month":3,"date":11,"hours":23,"utc":true},{"year":2003,"month":5,"date":18,"hours":1,"utc":true}]},"axis":{"title":null,"values":[{"year":2003,"month":3,"date":17,"utc":true},{"year":2003,"month":4,"date":1,"utc":true},{"year":2003,"month":4,"date":16,"utc":true},{"year":2003,"month":5,"date":1,"utc":true},{"year":2003,"month":5,"date":16,"utc":true}],"labelExpr":"utcdate(datum.value) == 1 ? (utcmonth(datum.value) == 3 ? 'Апрель 2003' : 'Май 2003') : ''","grid":true,"gridColor":{"condition":{"test":"utcdate(datum.value) == 1","value":"#e3e3e3"},"value":"#f1f1f1"},"tickOpacity":{"condition":{"test":"utcdate(datum.value) == 1","value":1},"value":0},"tickColor":"#b3b3b3","tickSize":4,"domain":false,"labelFontSize":14,"labelColor":"#4d4d4d","labelPadding":3,"labelFlush":false}},
"y":{"field":"v","type":"quantitative","scale":{"domain":[-10.7,229],"nice":false,"zero":false},"axis":{"title":null,"values":[0,25,50,75,100,125,150,175,200,225],"labelExpr":"datum.value % 50 == 0 ? datum.label : ''","grid":true,"gridColor":{"condition":{"test":"datum.value % 50 == 0","value":"#e3e3e3"},"value":"#f1f1f1"},"tickOpacity":{"condition":{"test":"datum.value % 50 == 0","value":1},"value":0},"tickColor":"#b3b3b3","tickSize":4,"domain":false,"labelFontSize":14,"labelColor":"#4d4d4d","labelPadding":3}},
"color":{"field":"s","type":"nominal","scale":{"domain":["1","2","3","4","5","6","7","f"],"range":["#3a8fd6","#f2c21a","#a6a6a6","#e36a6a","#9cc3ec","#1e4f7f","#a58e1f","#1a1a1a"]},"legend":{"title":"Заблаговременность, сутки","orient":"bottom","direction":"horizontal","titleOrient":"left","offset":50,"titleFontSize":16.5,"titleFontWeight":"normal","titleColor":"#000","titlePadding":10,"titleLimit":400,"labelFontSize":14,"labelColor":"#000","symbolType":"stroke","symbolStrokeWidth":2,"symbolSize":110,"columnPadding":9,"labelOffset":8,"labelExpr":"datum.label == 'f' ? 'Факт' : datum.label"}}},
"layer":[
{"transform":[{"filter":"datum.s != 'f'"}],"mark":{"type":"line","strokeWidth":1,"clip":true}},
{"transform":[{"filter":"datum.s == 'f'"}],"mark":{"type":"line","strokeWidth":1.6}},
{"transform":[{"filter":"datum.s == 'f'"}],"mark":{"type":"point","filled":true,"size":40,"opacity":1}}
]},
{"title":{"text":"MLP","frame":"group"},"width":568,"height":90,"data":{"name":"MLP"},
"transform":[{"fold":["1","2","3","4","5","6","7","f"],"as":["s","v"]}],
"encoding":{
"x":{"field":"d","type":"temporal","scale":{"type":"utc","domain":[{"year":2003,"month":3,"date":11,"hours":23,"utc":true},{"year":2003,"month":5,"date":18,"hours":1,"utc":true}]},"axis":{"title":null,"values":[{"year":2003,"month":3,"date":17,"utc":true},{"year":2003,"month":4,"date":1,"utc":true},{"year":2003,"month":4,"date":16,"utc":true},{"year":2003,"month":5,"date":1,"utc":true},{"year":2003,"month":5,"date":16,"utc":true}],"labelExpr":"utcdate(datum.value) == 1 ? (utcmonth(datum.value) == 3 ? 'Апрель 2003' : 'Май 2003') : ''","grid":true,"gridColor":{"condition":{"test":"utcdate(datum.value) == 1","value":"#e3e3e3"},"value":"#f1f1f1"},"tickOpacity":{"condition":{"test":"utcdate(datum.value) == 1","value":1},"value":0},"tickColor":"#b3b3b3","tickSize":4,"domain":false,"labelFontSize":14,"labelColor":"#4d4d4d","labelPadding":3,"labelFlush":false}},
"y":{"field":"v","type":"quantitative","scale":{"domain":[-10.7,229],"nice":false,"zero":false},"axis":{"title":null,"values":[0,25,50,75,100,125,150,175,200,225],"labelExpr":"datum.value % 50 == 0 ? datum.label : ''","grid":true,"gridColor":{"condition":{"test":"datum.value % 50 == 0","value":"#e3e3e3"},"value":"#f1f1f1"},"tickOpacity":{"condition":{"test":"datum.value % 50 == 0","value":1},"value":0},"tickColor":"#b3b3b3","tickSize":4,"domain":false,"labelFontSize":14,"labelColor":"#4d4d4d","labelPadding":3}},
"color":{"field":"s","type":"nominal","scale":{"domain":["1","2","3","4","5","6","7","f"],"range":["#3a8fd6","#f2c21a","#a6a6a6","#e36a6a","#9cc3ec","#1e4f7f","#a58e1f","#1a1a1a"]}}},
"layer":[
{"transform":[{"filter":"datum.s != 'f'"}],"mark":{"type":"line","strokeWidth":1,"clip":true}},
{"transform":[{"filter":"datum.s == 'f'"}],"mark":{"type":"line","strokeWidth":1.6}},
{"transform":[{"filter":"datum.s == 'f'"}],"mark":{"type":"point","filled":true,"size":40,"opacity":1}}
]},
{"title":{"text":"LSTM_P","frame":"group","offset":-6},"width":568,"height":90,"data":{"name":"LSTM_P"},
"transform":[{"fold":["1","2","3","4","5","6","7","f"],"as":["s","v"]}],
"encoding":{
"x":{"field":"d","type":"temporal","scale":{"type":"utc","domain":[{"year":2003,"month":3,"date":11,"hours":23,"utc":true},{"year":2003,"month":5,"date":18,"hours":1,"utc":true}]},"axis":{"title":null,"values":[{"year":2003,"month":3,"date":17,"utc":true},{"year":2003,"month":4,"date":1,"utc":true},{"year":2003,"month":4,"date":16,"utc":true},{"year":2003,"month":5,"date":1,"utc":true},{"year":2003,"month":5,"date":16,"utc":true}],"labelExpr":"utcdate(datum.value) == 1 ? (utcmonth(datum.value) == 3 ? 'Апрель 2003' : 'Май 2003') : ''","grid":true,"gridColor":{"condition":{"test":"utcdate(datum.value) == 1","value":"#e3e3e3"},"value":"#f1f1f1"},"tickOpacity":{"condition":{"test":"utcdate(datum.value) == 1","value":1},"value":0},"tickColor":"#b3b3b3","tickSize":4,"domain":false,"labelFontSize":14,"labelColor":"#4d4d4d","labelPadding":3,"labelFlush":false}},
"y":{"field":"v","type":"quantitative","scale":{"domain":[-10.7,229],"nice":false,"zero":false},"axis":{"title":"Расход воды, м³/с","titleFontSize":16,"titleFontWeight":"normal","titleColor":"#000","titlePadding":10,"values":[0,25,50,75,100,125,150,175,200,225],"labelExpr":"datum.value % 50 == 0 ? datum.label : ''","grid":true,"gridColor":{"condition":{"test":"datum.value % 50 == 0","value":"#e3e3e3"},"value":"#f1f1f1"},"tickOpacity":{"condition":{"test":"datum.value % 50 == 0","value":1},"value":0},"tickColor":"#b3b3b3","tickSize":4,"domain":false,"labelFontSize":14,"labelColor":"#4d4d4d","labelPadding":3}},
"color":{"field":"s","type":"nominal","scale":{"domain":["1","2","3","4","5","6","7","f"],"range":["#3a8fd6","#f2c21a","#a6a6a6","#e36a6a","#9cc3ec","#1e4f7f","#a58e1f","#1a1a1a"]}}},
"layer":[
{"transform":[{"filter":"datum.s != 'f'"}],"mark":{"type":"line","strokeWidth":1,"clip":true}},
{"transform":[{"filter":"datum.s == 'f'"}],"mark":{"type":"line","strokeWidth":1.6}},
{"transform":[{"filter":"datum.s == 'f'"}],"mark":{"type":"point","filled":true,"size":40,"opacity":1}}
]},
{"title":{"text":"LSTM_TP","frame":"group"},"width":568,"height":90,"data":{"name":"LSTM_TP"},
"transform":[{"fold":["1","2","3","4","5","6","7","f"],"as":["s","v"]}],
"encoding":{
"x":{"field":"d","type":"temporal","scale":{"type":"utc","domain":[{"year":2003,"month":3,"date":11,"hours":23,"utc":true},{"year":2003,"month":5,"date":18,"hours":1,"utc":true}]},"axis":{"title":null,"values":[{"year":2003,"month":3,"date":17,"utc":true},{"year":2003,"month":4,"date":1,"utc":true},{"year":2003,"month":4,"date":16,"utc":true},{"year":2003,"month":5,"date":1,"utc":true},{"year":2003,"month":5,"date":16,"utc":true}],"labelExpr":"utcdate(datum.value) == 1 ? (utcmonth(datum.value) == 3 ? 'Апрель 2003' : 'Май 2003') : ''","grid":true,"gridColor":{"condition":{"test":"utcdate(datum.value) == 1","value":"#e3e3e3"},"value":"#f1f1f1"},"tickOpacity":{"condition":{"test":"utcdate(datum.value) == 1","value":1},"value":0},"tickColor":"#b3b3b3","tickSize":4,"domain":false,"labelFontSize":14,"labelColor":"#4d4d4d","labelPadding":3,"labelFlush":false}},
"y":{"field":"v","type":"quantitative","scale":{"domain":[-10.7,229],"nice":false,"zero":false},"axis":{"title":null,"values":[0,25,50,75,100,125,150,175,200,225],"labelExpr":"datum.value % 50 == 0 ? datum.label : ''","grid":true,"gridColor":{"condition":{"test":"datum.value % 50 == 0","value":"#e3e3e3"},"value":"#f1f1f1"},"tickOpacity":{"condition":{"test":"datum.value % 50 == 0","value":1},"value":0},"tickColor":"#b3b3b3","tickSize":4,"domain":false,"labelFontSize":14,"labelColor":"#4d4d4d","labelPadding":3}},
"color":{"field":"s","type":"nominal","scale":{"domain":["1","2","3","4","5","6","7","f"],"range":["#3a8fd6","#f2c21a","#a6a6a6","#e36a6a","#9cc3ec","#1e4f7f","#a58e1f","#1a1a1a"]}}},
"layer":[
{"transform":[{"filter":"datum.s != 'f'"}],"mark":{"type":"line","strokeWidth":1,"clip":true}},
{"transform":[{"filter":"datum.s == 'f'"}],"mark":{"type":"line","strokeWidth":1.6}},
{"transform":[{"filter":"datum.s == 'f'"}],"mark":{"type":"point","filled":true,"size":40,"opacity":1}}
]}
]}
]
},
{
"title":{"text":"(б)","orient":"bottom","font":"Liberation Serif","fontSize":21,"offset":26},
"spacing":47,
"resolve":{"scale":{"color":"independent"}},
"vconcat":[
{"spacing":1,"hconcat":[
{"width":359,"height":181,"data":{"name":"hm"},"transform":[{"filter":"datum.k == 'S'"}],
"encoding":{
"x":{"field":"q","type":"ordinal","scale":{"paddingInner":0,"paddingOuter":0.1},"axis":{"title":null,"labelAngle":0,"labelFontSize":16.5,"labelColor":"#4d4d4d","tickColor":"#b3b3b3","tickSize":4,"domain":false,"labelPadding":2}},
"y":{"field":"m","type":"ordinal","sort":["LSTM_TP","LSTM_P","MLP","LM"],"scale":{"paddingInner":0,"paddingOuter":0.1},"axis":{"title":null,"labelFontSize":16.5,"labelColor":"#4d4d4d","tickColor":"#b3b3b3","tickSize":4,"domain":false,"labelPadding":4}}},
"layer":[
{"mark":{"type":"rect"},"encoding":{"color":{"field":"v","type":"quantitative","scale":{"domain":[-0.4,35.7],"interpolate":"rgb","range":["#3288bd","#99d594","#e6f598","#ffffbf","#fee08b","#fc8d59","#d53e4f"]},"legend":{"title":null,"orient":"right","offset":39,"gradientLength":76,"gradientThickness":15,"values":[0,10,20,30],"labelOverlap":false,"labelFontSize":14,"labelColor":"#000","labelOffset":6}}}},
{"mark":{"type":"text","fontSize":19,"color":"#000"},"encoding":{"text":{"field":"v","type":"nominal"}}}
]},
{"width":40,"height":181,"view":{"fill":"#b3b3b3","stroke":null},"data":{"values":[{"t":"S, м³/с"}]},"mark":{"type":"text","angle":90,"fontSize":16,"color":"#1a1a1a"},"encoding":{"text":{"field":"t","type":"nominal"}}}
]},
{"spacing":1,"hconcat":[
{"width":359,"height":181,"data":{"name":"hm"},"transform":[{"filter":"datum.k == 'N'"}],
"encoding":{
"x":{"field":"q","type":"ordinal","scale":{"paddingInner":0,"paddingOuter":0.1},"axis":{"title":null,"labelAngle":0,"labelFontSize":16.5,"labelColor":"#4d4d4d","tickColor":"#b3b3b3","tickSize":4,"domain":false,"labelPadding":2}},
"y":{"field":"m","type":"ordinal","sort":["LSTM_TP","LSTM_P","MLP","LM"],"scale":{"paddingInner":0,"paddingOuter":0.1},"axis":{"title":"Модель","titleFontSize":20,"titleFontWeight":"normal","titleColor":"#000","titlePadding":6,"labelFontSize":16.5,"labelColor":"#4d4d4d","tickColor":"#b3b3b3","tickSize":4,"domain":false,"labelPadding":4}}},
"layer":[
{"mark":{"type":"rect"},"encoding":{"color":{"field":"v","type":"quantitative","scale":{"domain":[-0.03,1.03],"interpolate":"rgb","range":["#d53e4f","#fc8d59","#fee08b","#ffffbf","#e6f598","#99d594","#3288bd"]},"legend":{"title":null,"orient":"right","offset":39,"gradientLength":82,"gradientThickness":15,"values":[0,0.25,0.5,0.75,1],"format":".2f","labelOverlap":false,"labelFontSize":13.5,"labelColor":"#000","labelOffset":6}}}},
{"mark":{"type":"text","fontSize":19,"color":"#000"},"encoding":{"text":{"field":"v","type":"nominal"}}}
]},
{"width":40,"height":181,"view":{"fill":"#b3b3b3","stroke":null},"data":{"values":[{"t":"NSE"}]},"mark":{"type":"text","angle":90,"fontSize":16,"color":"#1a1a1a"},"encoding":{"text":{"field":"t","type":"nominal"}}}
]},
{"spacing":1,"hconcat":[
{"width":359,"height":181,"data":{"name":"hm"},"transform":[{"filter":"datum.k == 'R'"}],
"encoding":{
"x":{"field":"q","type":"ordinal","scale":{"paddingInner":0,"paddingOuter":0.1},"axis":{"title":"Заблаговременность","titleFontSize":20,"titleFontWeight":"normal","titleColor":"#000","titlePadding":4,"labelAngle":0,"labelFontSize":16.5,"labelColor":"#4d4d4d","tickColor":"#b3b3b3","tickSize":4,"domain":false,"labelPadding":2}},
"y":{"field":"m","type":"ordinal","sort":["LSTM_TP","LSTM_P","MLP","LM"],"scale":{"paddingInner":0,"paddingOuter":0.1},"axis":{"title":null,"labelFontSize":16.5,"labelColor":"#4d4d4d","tickColor":"#b3b3b3","tickSize":4,"domain":false,"labelPadding":4}}},
"layer":[
{"mark":{"type":"rect"},"encoding":{"color":{"field":"v","type":"quantitative","scale":{"domain":[-0.04,1.2],"interpolate":"rgb","range":["#3288bd","#99d594","#e6f598","#ffffbf","#fee08b","#fc8d59","#d53e4f"]},"legend":{"title":null,"orient":"right","offset":39,"gradientLength":76,"gradientThickness":15,"values":[0,0.3,0.6,0.9],"format":".1f","labelOverlap":false,"labelFontSize":14,"labelColor":"#000","labelOffset":6}}}},
{"mark":{"type":"text","fontSize":19,"color":"#000"},"encoding":{"text":{"field":"v","type":"nominal"}}}
]},
{"width":40,"height":181,"view":{"fill":"#b3b3b3","stroke":null},"data":{"values":[{"t":"S/σΔ"}]},"mark":{"type":"text","angle":90,"fontSize":16,"color":"#1a1a1a"},"encoding":{"text":{"field":"t","type":"nominal"}}}
]}
]
}
],
"columns":2,
"spacing":19,
"align":"none",
"resolve":{"scale":{"color":"independent"}}
}
